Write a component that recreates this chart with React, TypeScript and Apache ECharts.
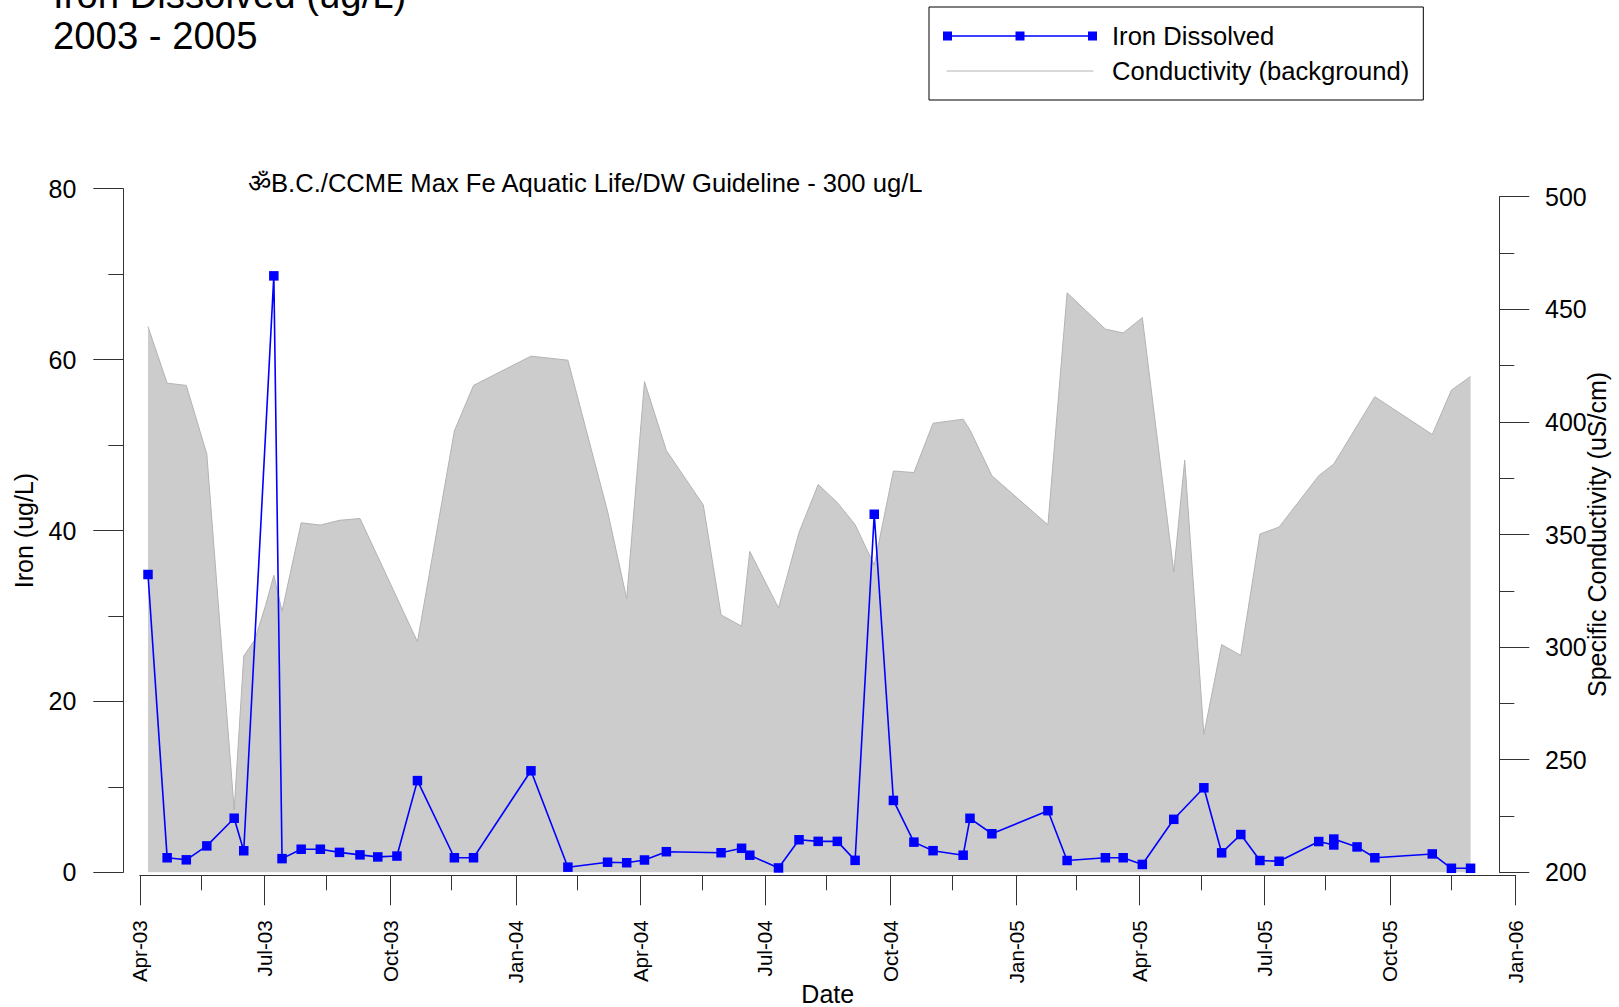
import React, { useEffect, useRef } from "react";
import * as echarts from "echarts";

const FONT = "'Liberation Sans', Arial, sans-serif";
const TITLE_LINES = ["Iron Dissolved (ug/L)", "2003 - 2005"];
const GUIDELINE_NOTE = "\u0950B.C./CCME Max Fe Aquatic Life/DW Guideline - 300 ug/L";

const QUARTER_TICKS = ["2003-04-01","2003-07-01","2003-10-01","2004-01-01","2004-04-01","2004-07-01","2004-10-01","2005-01-01","2005-04-01","2005-07-01","2005-10-01","2006-01-01"];
const QUARTER_LABELS = ["Apr-03","Jul-03","Oct-03","Jan-04","Apr-04","Jul-04","Oct-04","Jan-05","Apr-05","Jul-05","Oct-05","Jan-06"];
const MID_TICKS = ["2003-05-16","2003-08-15","2003-11-15","2004-02-15","2004-05-16","2004-08-15","2004-11-15","2005-02-14","2005-05-16","2005-08-15","2005-11-15"];

const ironDates = ["2003-04-07","2003-04-21","2003-05-05","2003-05-20","2003-06-09","2003-06-16","2003-07-08","2003-07-14","2003-07-28","2003-08-11","2003-08-25","2003-09-09","2003-09-22","2003-10-06","2003-10-21","2003-11-17","2003-12-01","2004-01-12","2004-02-08","2004-03-08","2004-03-22","2004-04-04","2004-04-20","2004-05-30","2004-06-14","2004-06-20","2004-07-11","2004-07-26","2004-08-09","2004-08-23","2004-09-05","2004-09-19","2004-10-03","2004-10-18","2004-11-01","2004-11-23","2004-11-28","2004-12-14","2005-01-24","2005-02-07","2005-03-07","2005-03-20","2005-04-03","2005-04-26","2005-05-18","2005-05-31","2005-06-14","2005-06-28","2005-07-12","2005-08-10","2005-08-21","2005-08-21","2005-09-07","2005-09-20","2005-11-01","2005-11-15","2005-11-29"];
const ironValues = [34.85,1.7,1.46,3.09,6.33,2.52,69.8,1.6,2.7,2.7,2.33,2.04,1.8,1.9,10.73,1.7,1.7,11.88,0.6,1.18,1.12,1.44,2.41,2.29,2.81,2.0,0.51,3.81,3.62,3.62,1.4,41.9,8.41,3.53,2.53,2.0,6.32,4.51,7.21,1.38,1.7,1.7,0.92,6.2,9.89,2.28,4.42,1.38,1.29,3.6,3.2,3.89,2.97,1.7,2.15,0.47,0.47];

const condDates = ["2003-04-07","2003-04-21","2003-05-05","2003-05-20","2003-06-09","2003-06-16","2003-06-24","2003-07-02","2003-07-08","2003-07-14","2003-07-28","2003-08-11","2003-08-25","2003-09-09","2003-10-21","2003-11-17","2003-12-01","2004-01-12","2004-02-08","2004-03-08","2004-03-22","2004-04-04","2004-04-20","2004-05-17","2004-05-30","2004-06-14","2004-06-20","2004-07-11","2004-07-26","2004-08-09","2004-08-23","2004-09-05","2004-09-19","2004-10-03","2004-10-18","2004-11-01","2004-11-23","2004-11-28","2004-12-14","2005-01-24","2005-02-07","2005-03-07","2005-03-20","2005-04-03","2005-04-26","2005-05-04","2005-05-18","2005-05-31","2005-06-14","2005-06-28","2005-07-12","2005-08-10","2005-08-21","2005-09-20","2005-11-01","2005-11-15","2005-11-29"];
const condValues = [442.3,417.2,416.2,385.7,227.7,296,303.2,318.6,331.9,315.9,355.2,354.2,356.3,357.1,302.4,396,416.2,429.2,427.4,360.3,321.5,417.9,387.3,363.1,314.3,309.3,342.5,317.4,350.9,372.2,364.2,354.4,336.4,378.2,377.5,399.4,401.2,396.4,376.1,354.3,457.3,441.2,439.5,446.3,333.4,383,261.2,301.1,296.3,350.2,353.3,376.1,381.3,411.2,394.4,414.1,420.2];

const IRON_ICON = "path://M0 0H9V3.7H72.5V0H81.5V3.7H145V0H154V9H145V5.3H81.5V9H72.5V5.3H9V9H0ZM164 0L164 0";
const COND_ICON = "path://M3.5 4H150.5V5H3.5ZM0 0L0 0M164 9L164 9";

const TICK_COLOR = "#333333";

const ts = (s: string) => new Date(s + "T00:00:00Z").getTime();
const labelFor = (v: number) => {
  const i = QUARTER_TICKS.findIndex((d) => ts(d) === v);
  return i >= 0 ? QUARTER_LABELS[i] : "";
};

export default function App() {
  const ref = useRef<HTMLDivElement>(null);
  useEffect(() => {
    document.body.style.margin = "0";
    const chart = echarts.init(ref.current!, undefined, { renderer: "svg" });
    const xMin = ts(QUARTER_TICKS[0]);
    const xMax = ts(QUARTER_TICKS[QUARTER_TICKS.length - 1]);
    const axisText = { color: "#000", fontFamily: FONT };
    chart.setOption({
      animation: false,
      backgroundColor: "#fff",
      textStyle: { fontFamily: FONT },
      title: [
        {
          text: TITLE_LINES.join("\n"),
          left: 48,
          top: -31,
          textStyle: { fontSize: 38.3, fontWeight: "normal", color: "#000", fontFamily: FONT, lineHeight: 41 },
        },
        {
          text: GUIDELINE_NOTE,
          left: 243,
          top: 165,
          textStyle: { fontSize: 25.6, fontWeight: "normal", color: "#000", fontFamily: FONT },
        },
      ],
      legend: {
        orient: "vertical",
        left: 929,
        top: 7,
        padding: [16, 14, 16, 14],
        borderColor: "#000",
        borderWidth: 1,
        itemWidth: 164,
        itemHeight: 9,
        itemGap: 9,
        symbolKeepAspect: false,
        selectedMode: false,
        textStyle: { fontSize: 25.6, color: "#000", fontFamily: FONT },
        itemStyle: { borderWidth: 0 },
        data: [
          { name: "Iron Dissolved", icon: IRON_ICON, itemStyle: { color: "#0000ff", borderWidth: 0 } },
          { name: "Conductivity (background)", icon: COND_ICON, itemStyle: { color: "#b3b3b3", borderWidth: 0 } },
        ],
      },
      grid: [
        { left: 139.8, right: 1619 - 1515.7, top: 188.7, height: 872.3 - 188.7, outerBoundsMode: "none" },
        { left: 139.8, right: 1619 - 1515.7, top: 196.7, height: 872.3 - 196.7, outerBoundsMode: "none" },
      ],
      xAxis: [
        {
          type: "value",
          gridIndex: 0,
          min: xMin,
          max: xMax,
          position: "bottom",
          offset: 3,
          name: "Date",
          nameLocation: "middle",
          nameGap: 106,
          nameMoveOverlap: false,
          nameTextStyle: { fontSize: 25, ...axisText },
          axisLine: { show: true, onZero: false, lineStyle: { color: TICK_COLOR } },
          axisTick: { show: true, length: 30, customValues: QUARTER_TICKS.map(ts), lineStyle: { color: TICK_COLOR } },
          axisLabel: {
            show: true,
            customValues: QUARTER_TICKS.map(ts),
            formatter: (v: number) => labelFor(v),
            rotate: 90,
            margin: 45,
            fontSize: 20.6,
            hideOverlap: false,
            showMinLabel: true,
            showMaxLabel: true,
            ...axisText,
          },
          splitLine: { show: false },
        },
        {
          type: "value",
          gridIndex: 0,
          min: xMin,
          max: xMax,
          position: "bottom",
          offset: 3,
          axisLine: { show: false, onZero: false },
          axisTick: { show: true, length: 15, customValues: MID_TICKS.map(ts), lineStyle: { color: TICK_COLOR } },
          axisLabel: { show: false },
          splitLine: { show: false },
        },
        {
          type: "value",
          gridIndex: 1,
          min: xMin,
          max: xMax,
          show: false,
        },
      ],
      yAxis: [
        {
          type: "value",
          gridIndex: 0,
          min: 0,
          max: 80,
          interval: 20,
          position: "left",
          offset: 16.5,
          name: "Iron (ug/L)",
          nameLocation: "middle",
          nameGap: 87,
          nameRotate: 90,
          nameMoveOverlap: false,
          nameTextStyle: { fontSize: 25, ...axisText },
          axisLine: { show: true, onZero: false, lineStyle: { color: TICK_COLOR } },
          axisTick: { show: true, length: 30, lineStyle: { color: TICK_COLOR } },
          minorTick: { show: true, splitNumber: 2, length: 15, lineStyle: { color: TICK_COLOR } },
          axisLabel: { margin: 47, fontSize: 25, ...axisText },
          splitLine: { show: false },
          minorSplitLine: { show: false },
        },
        {
          type: "value",
          gridIndex: 1,
          min: 200,
          max: 500,
          interval: 50,
          position: "right",
          offset: -16.4,
          name: "Specific Conductivity (uS/cm)",
          nameLocation: "middle",
          nameGap: 85,
          nameRotate: 90,
          nameMoveOverlap: false,
          nameTextStyle: { fontSize: 25, ...axisText },
          axisLine: { show: true, onZero: false, lineStyle: { color: TICK_COLOR } },
          axisTick: { show: true, length: 30, lineStyle: { color: TICK_COLOR } },
          minorTick: { show: true, splitNumber: 2, length: 15, lineStyle: { color: TICK_COLOR } },
          axisLabel: { margin: 45.7, fontSize: 25, ...axisText },
          splitLine: { show: false },
          minorSplitLine: { show: false },
        },
      ],
      series: [
        {
          name: "Conductivity (background)",
          type: "line",
          xAxisIndex: 2,
          yAxisIndex: 1,
          z: 1,
          showSymbol: false,
          symbol: "none",
          data: condDates.map((d, i) => [ts(d), condValues[i]]),
          itemStyle: { color: "#bbbbbb" },
          lineStyle: { color: "#b3b3b3", width: 1 },
          areaStyle: { color: "#cccccc", opacity: 1, origin: "start" },
        },
        {
          name: "Iron Dissolved",
          type: "line",
          xAxisIndex: 0,
          yAxisIndex: 0,
          z: 3,
          symbol: "rect",
          symbolSize: 9.5,
          showAllSymbol: true,
          data: ironDates.map((d, i) => [ts(d), ironValues[i]]),
          itemStyle: { color: "#0000ff" },
          lineStyle: { color: "#0000ff", width: 1.6 },
        },
      ],
    });
    return () => chart.dispose();
  }, []);
  return <div ref={ref} style={{ width: 1619, height: 1007 }} />;
}
